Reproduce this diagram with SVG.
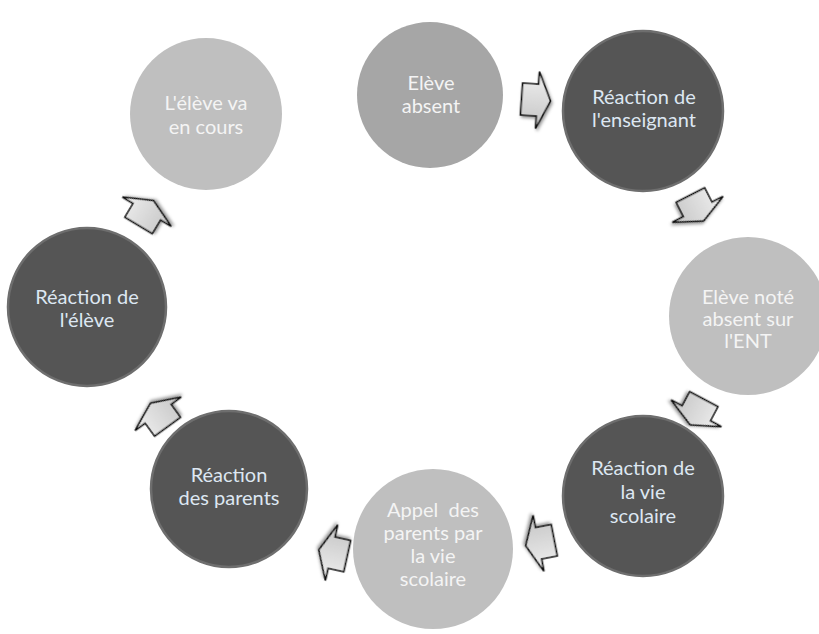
<svg xmlns="http://www.w3.org/2000/svg" width="819" height="634" viewBox="0 0 819 634">
<defs>
<style>
.dark{fill:#555555;stroke:#6e6e6e;stroke-width:2.5}
.mid{fill:#a6a6a6}
.light{fill:#bfbfbf}
.tl{font-family:Lato,"Open Sans",sans-serif;font-size:20px;text-anchor:middle;fill:#f4f4f4}
.td{font-family:Lato,"Open Sans",sans-serif;font-size:20px;text-anchor:middle;fill:#dde7f2}
.arr{fill:url(#ag);stroke:#111;stroke-width:1.6;stroke-linejoin:miter;filter:url(#sh)}
</style>
<linearGradient id="ag" x1="0" y1="0" x2="0" y2="1">
<stop offset="0" stop-color="#f0f0f0"/>
<stop offset="1" stop-color="#c4c4c4"/>
</linearGradient>
<filter id="sh" x="-50%" y="-50%" width="200%" height="200%">
<feDropShadow dx="1.5" dy="2" stdDeviation="1.8" flood-color="#000" flood-opacity="0.4"/>
</filter>
<path id="arrow" d="M-14.5,-16 L1.5,-16 L1.5,-28.5 L14.5,0 L1.5,28.5 L1.5,16 L-14.5,16 Z"/>
</defs>
<rect width="819" height="634" fill="#ffffff"/>

<g id="connectors">
<use href="#arrow" class="arr" transform="translate(536,100) rotate(4)"/>
<use href="#arrow" class="arr" transform="translate(697,208) rotate(63)"/>
<use href="#arrow" class="arr" transform="translate(697,412) rotate(118)"/>
<use href="#arrow" class="arr" transform="translate(540,543) rotate(169)"/>
<use href="#arrow" class="arr" transform="translate(333,553) rotate(192.5)"/>
<use href="#arrow" class="arr" transform="translate(159,415) rotate(234)"/>
<use href="#arrow" class="arr" transform="translate(146,213) rotate(-59)"/>
</g>

<g id="n1">
<circle class="mid" cx="430" cy="95" r="73"/>
<text class="tl" x="431" y="90">Elève</text>
<text class="tl" x="431" y="113">absent</text>
</g>
<g id="n2">
<circle class="dark" cx="643" cy="111" r="80"/>
<text class="td" x="644" y="104">Réaction de</text>
<text class="td" x="644" y="127">l'enseignant</text>
</g>
<g id="n3">
<circle class="light" cx="748" cy="316" r="79"/>
<text class="tl" x="748" y="304">Elève noté</text>
<text class="tl" x="748" y="326">absent sur</text>
<text class="tl" x="748" y="348">l'ENT</text>
</g>
<g id="n4">
<circle class="dark" cx="643" cy="496" r="80"/>
<text class="td" x="643" y="475">Réaction de</text>
<text class="td" x="643" y="499">la vie</text>
<text class="td" x="643" y="523">scolaire</text>
</g>
<g id="n5">
<circle class="light" cx="433" cy="549" r="80"/>
<text class="tl" x="433" y="517" style="white-space:pre">Appel  des</text>
<text class="tl" x="433" y="540">parents par</text>
<text class="tl" x="433" y="563">la vie</text>
<text class="tl" x="433" y="586">scolaire</text>
</g>
<g id="n6">
<circle class="dark" cx="229" cy="489" r="78"/>
<text class="td" x="229" y="482">Réaction</text>
<text class="td" x="229" y="505">des parents</text>
</g>
<g id="n7">
<circle class="dark" cx="87" cy="307" r="79"/>
<text class="td" x="87" y="304">Réaction de</text>
<text class="td" x="87" y="327">l'élève</text>
</g>
<g id="n8">
<circle class="light" cx="206" cy="114" r="76"/>
<text class="tl" x="206" y="110">L'élève va</text>
<text class="tl" x="206" y="134">en cours</text>
</g>
</svg>
